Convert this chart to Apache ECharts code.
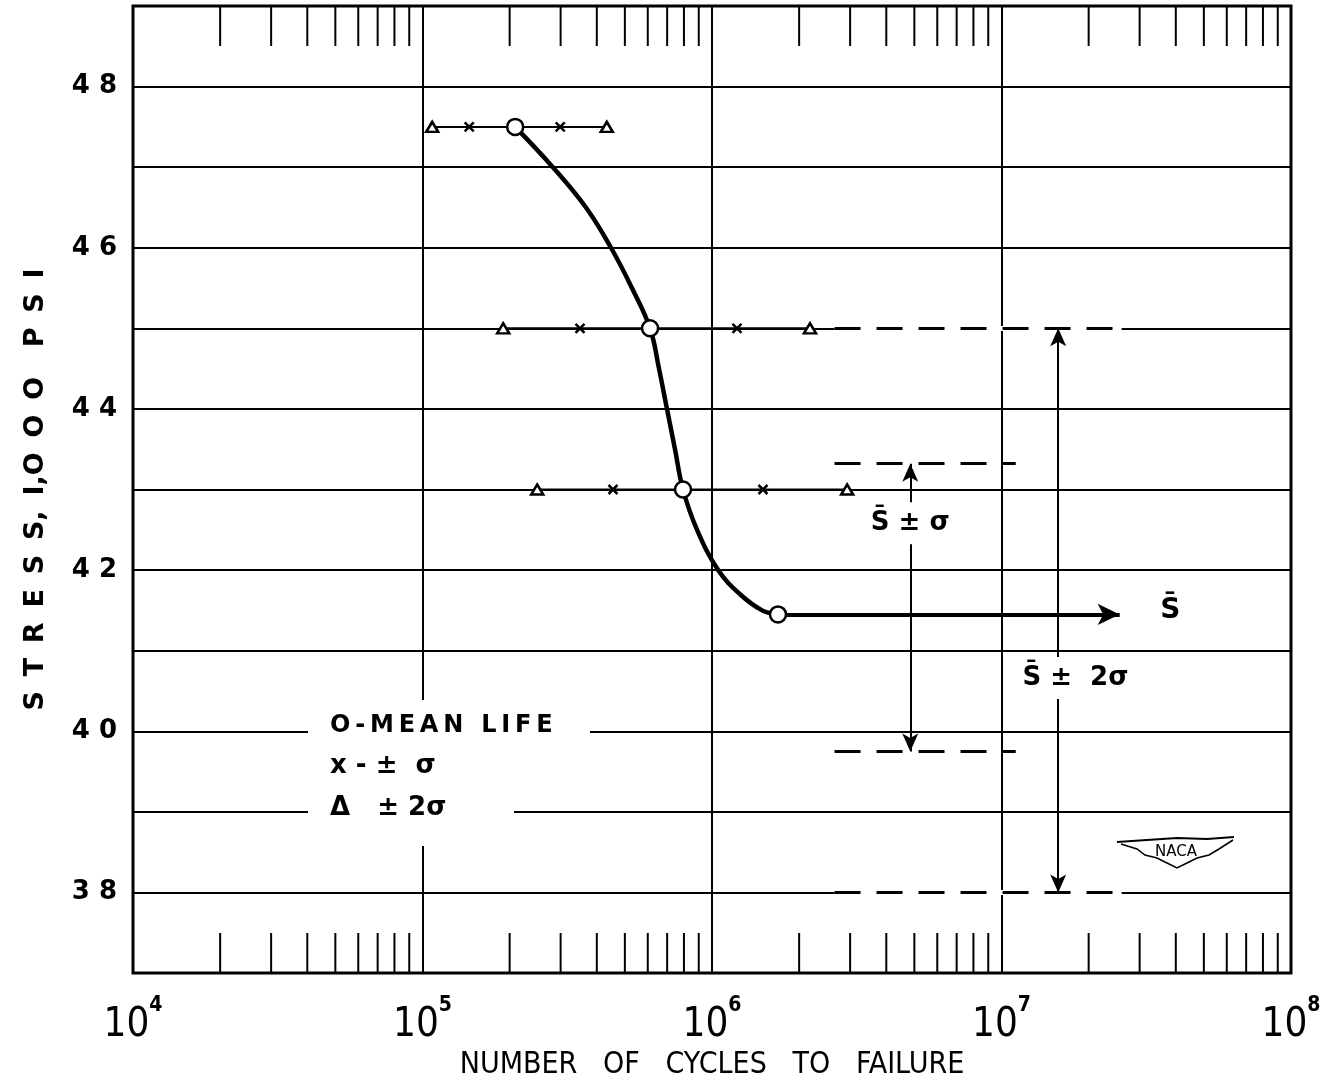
<!DOCTYPE html>
<html>
<head>
<meta charset="utf-8">
<script src="https://cdn.jsdelivr.net/npm/echarts@6/dist/echarts.min.js"></script>
<style>
  html, body { margin: 0; padding: 0; background: #fff; }
  #chart { width: 1334px; height: 1077px; }
</style>
</head>
<body>
<div id="chart"></div>
<script>
// test stress levels, 1,000 psi
const rowStress = [47.5, 45, 43]
// cycles to failure at each level
const minus2Sigma = [1.08e5, 1.90e5, 2.49e5]
const minusSigma = [1.45e5, 3.50e5, 4.55e5]
const meanLife = [2.09e5, 6.11e5, 7.94e5]
const plusSigma = [2.99e5, 1.22e6, 1.50e6]
const plus2Sigma = [4.33e5, 2.18e6, 2.93e6]

// faired mean S-N curve
const curveCycles = [2.09e5, 2.82e5, 3.67e5, 4.48e5, 5.29e5, 6.11e5, 6.56e5, 6.99e5, 7.45e5, 7.94e5, 8.88e5, 1.05e6, 1.25e6, 1.49e6, 1.69e6]
const curveStress = [47.5, 47.0, 46.5, 46.0, 45.5, 45.0, 44.5, 44.0, 43.5, 43.0, 42.5, 42.0, 41.7, 41.5, 41.45]

// mean fatigue strength and scatter band
const sBarCycles = 1.69e6
const sBarEnd = 2.56e7
const sBar = 41.45
const sBarPlusSigma = 43.32
const sBarMinusSigma = 39.75
const sBarPlus2Sigma = 45
const sBarMinus2Sigma = 38
const bandStart = 2.65e6
const sigmaBandEnd = 1.12e7
const twoSigmaBandEnd = 2.6e7
const sigmaArrowAt = 4.84e6
const twoSigmaArrowAt = 1.57e7

// axis ticks
const decades = [1e4, 1e5, 1e6, 1e7]
const minorMultipliers = [2, 3, 4, 5, 6, 7, 8, 9]

const FONT = 'DejaVu Sans'
const COND = 'DejaVu Sans Condensed'
const chart = echarts.init(document.getElementById('chart'))

const pairs = (xs, ys) => xs.map((x, i) => [x, Array.isArray(ys) ? ys[i] : ys])
const spaced = (s) => s.split('').join('\u2009')
const minorTicks = []
decades.forEach(d => minorMultipliers.forEach(m => minorTicks.push([d * m])))

const bandLine = (x1, x2, y, dashed) => [
  { coord: [x1, y], lineStyle: dashed ? { color: '#000', width: 3, type: [26, 16] } : { color: '#fff', width: 5, type: 'solid' } },
  { coord: [x2, y] }
]

chart.setOption({
  backgroundColor: '#fff',
  animation: false,
  grid: {
    left: 133, right: 43, top: 6, bottom: 104,
    outerBoundsMode: 'none',
    containLabel: false,
    show: true, borderColor: '#000', borderWidth: 3
  },
  xAxis: {
    type: 'log',
    logBase: 10,
    min: 1e4,
    max: 1e8,
    name: 'NUMBER   OF   CYCLES   TO   FAILURE',
    nameLocation: 'middle',
    nameGap: 71,
    nameTextStyle: { fontFamily: COND, fontSize: 30, color: '#000' },
    axisLine: { show: false },
    axisTick: { show: false },
    axisLabel: {
      margin: 22,
      formatter: v => '{b|10}{s|' + Math.round(Math.log10(v)) + '}',
      rich: {
        b: { fontFamily: COND, fontSize: 40, color: '#000' },
        s: { fontFamily: COND, fontSize: 21, fontWeight: 'bold', color: '#000', padding: [0, 0, 40, 0] }
      }
    },
    splitLine: { show: true, lineStyle: { color: '#000', width: 2 } }
  },
  yAxis: {
    type: 'value',
    min: 37,
    max: 49,
    interval: 1,
    name: 'S \u2009T \u2009R \u2009E \u2009S \u2009S, \u2009I,O \u2009O \u2009O \u2009 \u2009P \u2009S \u2009I',
    nameLocation: 'middle',
    nameGap: 84,
    nameTextStyle: { fontFamily: FONT, fontWeight: 'bold', fontSize: 27, color: '#000' },
    axisLine: { show: false },
    axisTick: { show: false },
    axisLabel: {
      margin: 16,
      fontFamily: FONT,
      fontWeight: 'bold',
      fontSize: 26,
      color: '#000',
      formatter: v => (v % 2 === 0 ? String(v).split('').join(' ') : '')
    },
    splitLine: { show: true, lineStyle: { color: '#000', width: 2 } }
  },
  graphic: [
    // gaps in the grid behind the key
    { type: 'rect', z: 100, shape: { x: 308, y: 700, width: 282, height: 54 }, style: { fill: '#fff' } },
    { type: 'rect', z: 100, shape: { x: 308, y: 754, width: 206, height: 92 }, style: { fill: '#fff' } },
    { type: 'text', z: 101, left: 330, top: 714, style: { text: spaced('O-MEAN LIFE'), font: 'bold 24px "DejaVu Sans"', fill: '#000' } },
    { type: 'text', z: 101, left: 330, top: 753, style: { text: 'x - \u00b1  \u03c3', font: 'bold 26px "DejaVu Sans"', fill: '#000' } },
    { type: 'text', z: 101, left: 330, top: 795, style: { text: '\u0394   \u00b1 2\u03c3', font: 'bold 26px "DejaVu Sans"', fill: '#000' } },
    // NACA wings
    {
      type: 'group', z: 101, left: 1113, top: 832,
      children: [
        { type: 'rect', shape: { x: -4, y: -4, width: 124, height: 42 }, style: { fill: '#fff' } },
        { type: 'polyline', shape: { points: [[0, 6], [30, 4], [60, 2], [90, 3], [117, 1]] }, style: { stroke: '#000', lineWidth: 2, fill: null } },
        { type: 'polyline', shape: { points: [[4, 8], [20, 13], [28, 19], [40, 22], [50, 27], [60, 32], [70, 27], [80, 22], [92, 19], [102, 13], [116, 4]] }, style: { stroke: '#000', lineWidth: 1.5, fill: null } },
        { type: 'text', left: 38, top: 9, style: { text: 'NACA', font: '15px "DejaVu Sans"', fill: '#000' } }
      ]
    }
  ],
  series: [
    {
      // log minor ticks along top and bottom edges
      type: 'custom',
      silent: true,
      data: minorTicks,
      renderItem: (params, api) => {
        const top = api.coord([api.value(0), 49])
        const bottom = api.coord([api.value(0), 37])
        const style = { stroke: '#000', lineWidth: 2 }
        return {
          type: 'group',
          children: [
            { type: 'line', shape: { x1: top[0], y1: top[1], x2: top[0], y2: top[1] + 40 }, style },
            { type: 'line', shape: { x1: bottom[0], y1: bottom[1] - 40, x2: bottom[0], y2: bottom[1] }, style }
          ]
        }
      }
    },
    // scatter rows, from -2 sigma to +2 sigma
    ...rowStress.map((s, i) => ({
      type: 'line',
      silent: true,
      showSymbol: false,
      lineStyle: { color: '#000', width: 2 },
      data: [[minus2Sigma[i], s], [plus2Sigma[i], s]]
    })),
    {
      // band lines
      type: 'line',
      silent: true,
      data: [],
      markLine: {
        silent: true,
        symbol: ['none', 'none'],
        label: { show: false },
        data: [
          bandLine(bandStart, twoSigmaBandEnd, sBarPlus2Sigma, false),
          bandLine(bandStart, twoSigmaBandEnd, sBarMinus2Sigma, false),
          bandLine(bandStart, twoSigmaBandEnd, sBarPlus2Sigma, true),
          bandLine(bandStart, twoSigmaBandEnd, sBarMinus2Sigma, true),
          bandLine(bandStart, sigmaBandEnd, sBarPlusSigma, true),
          bandLine(bandStart, sigmaBandEnd, sBarMinusSigma, true)
        ]
      }
    },
    {
      type: 'line',
      silent: true,
      data: [],
      markLine: {
        silent: true,
        symbol: ['arrow', 'arrow'],
        symbolSize: [12, 18],
        label: { show: false },
        lineStyle: { color: '#000', width: 2, type: 'solid' },
        data: [
          [{ coord: [sigmaArrowAt, sBarPlusSigma] }, { coord: [sigmaArrowAt, sBarMinusSigma] }],
          [{ coord: [twoSigmaArrowAt, sBarPlus2Sigma] }, { coord: [twoSigmaArrowAt, sBarMinus2Sigma] }]
        ]
      }
    },
    {
      // mean fatigue strength
      type: 'line',
      silent: true,
      data: [],
      markLine: {
        silent: true,
        symbol: ['none', 'arrow'],
        symbolSize: [16, 22],
        label: { show: false },
        lineStyle: { color: '#000', width: 4, type: 'solid' },
        data: [[{ coord: [sBarCycles, sBar] }, { coord: [sBarEnd, sBar] }]]
      }
    },
    {
      // faired mean curve
      type: 'line',
      silent: true,
      smooth: 0.4,
      showSymbol: false,
      lineStyle: { color: '#000', width: 4.5 },
      data: pairs(curveCycles, curveStress)
    },
    {
      type: 'scatter',
      silent: true,
      symbol: 'triangle',
      symbolSize: [12, 10],
      itemStyle: { color: '#fff', borderColor: '#000', borderWidth: 2.5, opacity: 1 },
      data: pairs(minus2Sigma, rowStress).concat(pairs(plus2Sigma, rowStress)),
      z: 5
    },
    {
      type: 'scatter',
      silent: true,
      symbol: 'path://M0,0L10,10M10,0L0,10',
      symbolSize: 9,
      itemStyle: { color: '#000', borderColor: '#000', borderWidth: 2.5, opacity: 1 },
      data: pairs(minusSigma, rowStress).concat(pairs(plusSigma, rowStress)),
      z: 5
    },
    {
      type: 'scatter',
      silent: true,
      symbol: 'circle',
      symbolSize: 16,
      itemStyle: { color: '#fff', borderColor: '#000', borderWidth: 2.5, opacity: 1 },
      data: pairs(meanLife, rowStress).concat([[sBarCycles, sBar]]),
      z: 6
    },
    {
      // annotation text
      type: 'scatter',
      silent: true,
      symbolSize: 0,
      z: 7,
      itemStyle: { opacity: 1 },
      label: {
        show: true,
        formatter: p => p.name,
        fontFamily: FONT,
        fontWeight: 'bold',
        fontSize: 26,
        color: '#000',
        backgroundColor: '#fff',
        padding: [8, 4]
      },
      data: [
        { name: 'S\u0304 \u00b1 \u03c3', value: [sigmaArrowAt, 42.58] },
        { name: 'S\u0304 \u00b1  2\u03c3', value: [1.8e7, 40.66] },
        { name: 'S\u0304', value: [3.4e7, 41.5], label: { position: 'right', fontSize: 28, padding: 0 } }
      ]
    }
  ]
})
</script>
</body>
</html>
